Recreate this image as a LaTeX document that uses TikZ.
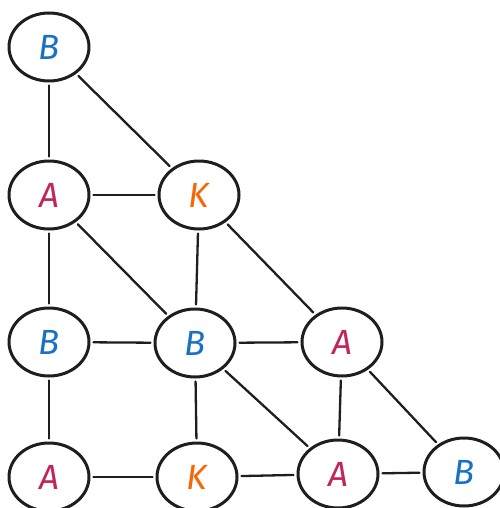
\documentclass[tikz,border=0pt]{standalone}
\usepackage{fontspec}
\setsansfont{Fira Sans}
\usetikzlibrary{shapes.geometric}
\definecolor{blueB}{HTML}{1971C2}
\definecolor{pinkA}{HTML}{C2255C}
\definecolor{orangeK}{HTML}{F76707}
\definecolor{ink}{HTML}{1E1E1E}
\begin{document}
\begin{tikzpicture}[line join=round, line cap=round, x=1pt, y=-1pt]
		\tikzset{every node/.style={ellipse,draw=ink,line width=3pt,minimum width=80pt,minimum height=68pt,inner sep=0pt,font=\fontsize{35}{38}\selectfont\sffamily\itshape},
			lB/.style={text=blueB},lA/.style={text=pinkA},lK/.style={text=orangeK}}
		\useasboundingbox (0,0) rectangle (499,508);
		\node[lB] (b1) at (49,47) {B};
		\node[lA] (a1) at (49,195) {A};
		\node[lK] (k1) at (199,195) {K};
		\node[lB] (b2) at (49,342) {B};
		\node[lB] (b3) at (195,343) {B};
		\node[lA] (a2) at (342,342) {A};
		\node[lA] (a3) at (49,477) {A};
		\node[lK] (k2) at (197,477) {K};
		\node[lA] (a4) at (338,474) {A};
		\node[lB] (b4) at (464,472) {B};
		\foreach \u/\v in {b1/a1,b1/k1,a1/k1,a1/b2,a1/b3,k1/b3,k1/a2,b2/b3,b3/a2,b2/a3,b3/k2,b3/a4,a2/a4,a2/b4,a3/k2,k2/a4,a4/b4}
		\draw[ink,line width=2.3pt,shorten >=3pt,shorten <=3pt] (\u)--(\v);
	\end{tikzpicture}
\end{document}
